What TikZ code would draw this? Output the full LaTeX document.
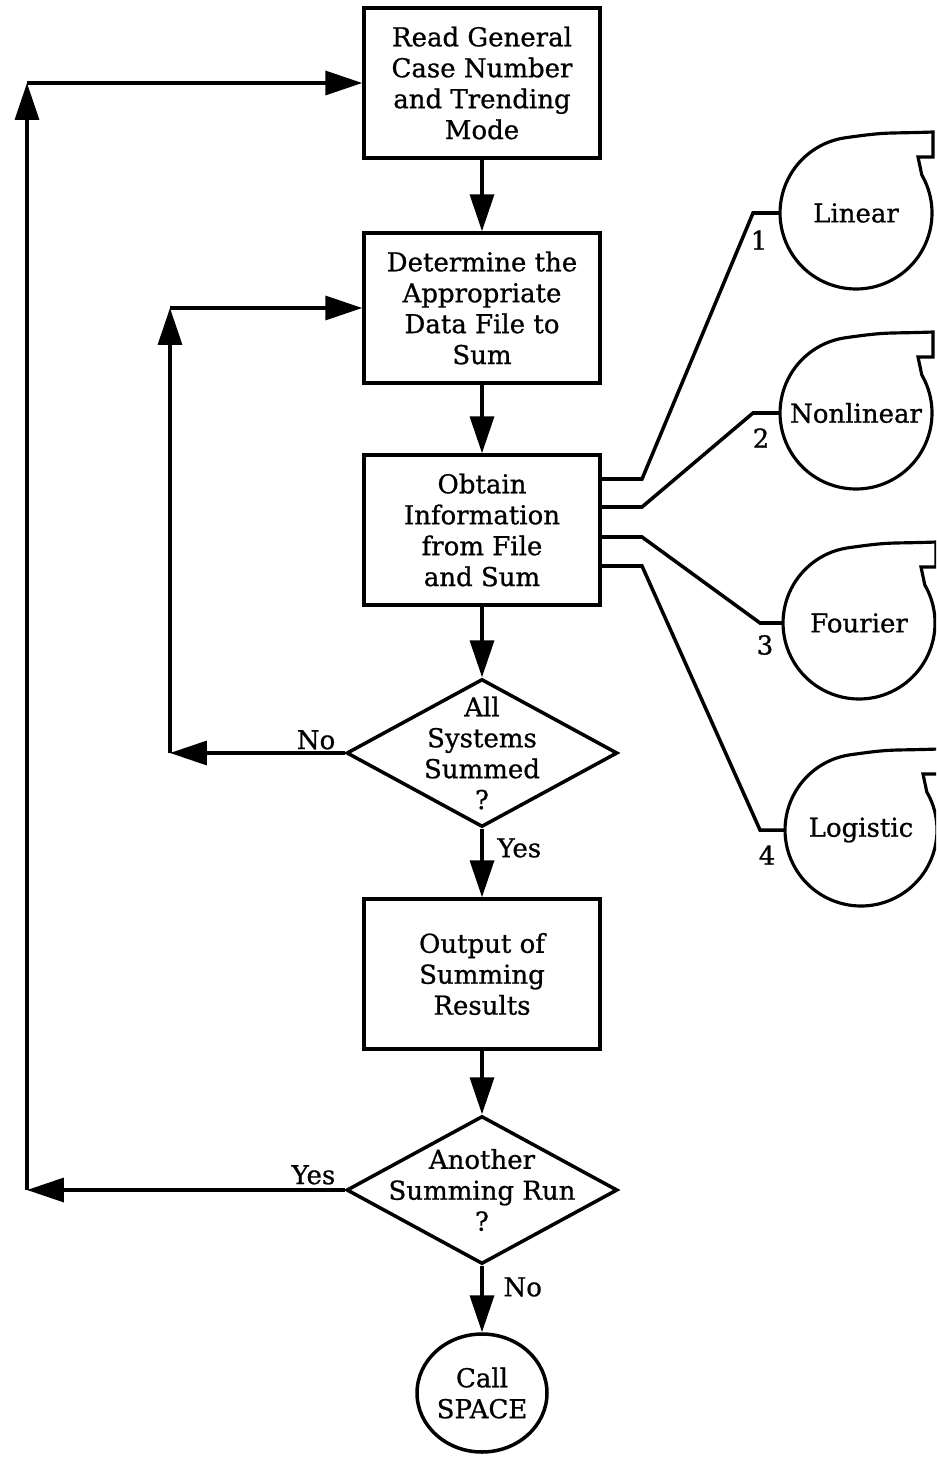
\documentclass[tikz,border=0pt]{standalone}
\usepackage{fontspec}
\setmainfont{DejaVu Serif}[FakeBold=0.8]
\usetikzlibrary{arrows.meta,calc,shapes.geometric}
\def\tapeline(#1){\draw[line width=1.8pt] ($(#1)+(30:1.52cm)$) arc[start angle=30, end angle=-262, radius=1.52cm] .. controls +(8:0.9cm) and +(182:1cm) .. ($(#1)+(1.54cm,1.62cm)$) -- ++(0,-0.5cm) -- ++(-0.3cm,0) -- cycle;}

\begin{document}
\begin{tikzpicture}[x=0.02cm, y=0.02cm, line width=2pt,
		font=\fontsize{14.8}{17.6}\selectfont,
		box/.style={draw, rectangle, minimum width=4.72cm, minimum height=3cm, align=center, inner sep=0pt},
		decision/.style={draw, diamond, minimum width=5.42cm, minimum height=2.96cm, inner sep=0pt},
		term/.style={draw, ellipse, minimum width=2.6cm, minimum height=2.36cm, align=center, inner sep=0pt},
		tape/.style={circle, minimum size=3.04cm, inner sep=0pt, outer sep=0pt},
		flow/.style={-{Triangle[length=7.4mm, width=4.8mm]}}]
		%%%%% START %%%%%
		
		\useasboundingbox (0,0) rectangle (936,-1459);
		\clip (0,0) rectangle (936,-1459);
		
		\node[box] (rd) at (482,-83) {Read General\\Case Number\\and Trending\\Mode};
		\node[box] (det) at (482,-308) {Determine the\\Appropriate\\Data File to\\Sum};
		\node[box] (obt) at (482,-530) {Obtain\\Information\\from File\\and Sum};
		
		\node[decision] (q1) at (482,-753) {};
		\node[align=center] (q1t) at (q1) {All\\Systems\\Summed\\?};
		
		\node[box] (out) at (482,-974) {Output of\\Summing\\Results};
		
		\node[decision] (q2) at (482,-1190) {};
		\node[align=center] (q2t) at (q2) {Another\\Summing Run\\?};
		
		\node[term] (spc) at (482,-1393) {Call\\SPACE};
		
		\draw[flow] (rd) -- (det);
		\draw[flow] (det) -- (obt);
		\draw[flow] (obt) -- (q1);
		\draw[flow] (q1) -- (out);
		\draw[flow] (out) -- (q2);
		\draw[flow] (q2) -- (spc);
		
		\node[anchor=south east, inner sep=1pt] (no1) at ($(q1.west)+(-6,0)$) {No};
		\node[anchor=north west, inner sep=1pt] (yes1) at ($(q1.south)+(12,-6)$) {Yes};
		\node[anchor=south east, inner sep=1pt] (yes2) at ($(q2.west)+(-6,2)$) {Yes};
		\node[anchor=north west, inner sep=1pt] (no2) at ($(q2.south)+(18,-8)$) {No};
		
		% inner loop
		\coordinate (nl) at (170,-753);
		\coordinate (nu) at (nl |- det.west);
		\draw[flow] (q1.west) -- (nl);
		\draw[flow] (nl) -- (nu);
		\draw[flow] (nu) -- (det.west);
		
		% outer loop
		\coordinate (yl) at (27,-1190);
		\coordinate (yu) at (yl |- rd.west);
		\draw[flow] (q2.west) -- (yl);
		\draw[flow] (yl) -- (yu);
		\draw[flow] (yu) -- (rd.west);
		
		% tapes
		\node[tape] (lin) at (856,-213) {Linear};
		\node[tape] (non) at (856,-413) {Nonlinear};
		\node[tape] (fou) at (859,-623) {Fourier};
		\node[tape] (log) at (861,-830) {Logistic};
		\tapeline(lin)
		\tapeline(non)
		\tapeline(fou)
		\tapeline(log)
		
		\coordinate (b1) at (642,-479);
		\coordinate (b2) at (642,-507);
		\coordinate (b3) at (642,-537);
		\coordinate (b4) at (642,-566);
		\draw (obt.east |- b1) -- (b1) -- ($(lin.west)+(-27,0)$) -- (lin.west);
		\draw (obt.east |- b2) -- (b2) -- ($(non.west)+(-27,0)$) -- (non.west);
		\draw (obt.east |- b3) -- (b3) -- ($(fou.west)+(-23,0)$) -- (fou.west);
		\draw (obt.east |- b4) -- (b4) -- ($(log.west)+(-25,0)$) -- (log.west);
		
		\node (n1) at (759,-240) {1};
		\node (n2) at (761,-438) {2};
		\node (n3) at (765,-645) {3};
		\node (n4) at (767,-855) {4};
		
		%%%%% END %%%%%
\end{tikzpicture}
\end{document}
